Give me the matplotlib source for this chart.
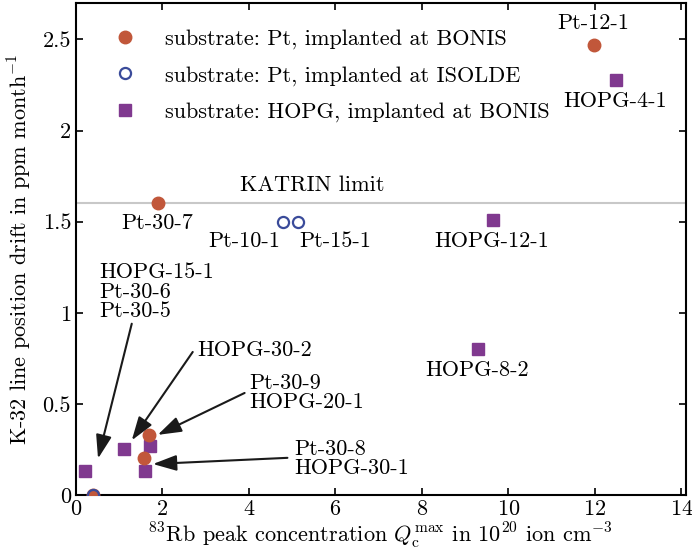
import matplotlib
matplotlib.use("Agg")
import matplotlib.pyplot as plt
from matplotlib.ticker import FuncFormatter

plt.rcParams["font.family"] = "serif"
plt.rcParams["font.serif"] = ["cmr10", "DejaVu Serif"]
plt.rcParams["mathtext.fontset"] = "cm"
plt.rcParams["axes.formatter.use_mathtext"] = True
plt.rcParams["font.size"] = 16

# data
pt_bonis_x = [11.97, 1.89, 1.68, 1.57, 0.39]
pt_bonis_y = [2.47, 1.60, 0.33, 0.203, 0.0]
pt_isolde_x = [4.78, 5.14, 0.39]
pt_isolde_y = [1.50, 1.50, 0.0]
hopg_x = [12.48, 9.64, 9.30, 1.11, 1.71, 1.59, 0.21]
hopg_y = [2.28, 1.51, 0.80, 0.253, 0.27, 0.132, 0.132]
katrin_limit = 1.6

col_pt = "#c1573a"
col_iso = "#3a4b9a"
col_hopg = "#80398f"

fig = plt.figure(figsize=(6.92, 5.56), dpi=100)
ax = fig.add_axes([0.1098, 0.1097, 0.881, 0.8849])

ax.axhline(katrin_limit, color="#c8c8c8", lw=1.5, zorder=1)
ax.text(5.47, 1.70, "KATRIN limit", ha="center", va="center")

ax.plot(pt_bonis_x, pt_bonis_y, "o", color=col_pt, ms=9, mec=col_pt,
        label="substrate: Pt, implanted at BONIS", zorder=3)
ax.plot(pt_isolde_x, pt_isolde_y, "o", mfc="none", mec=col_iso, mew=1.6, ms=8,
        label="substrate: Pt, implanted at ISOLDE", zorder=4)
ax.plot(hopg_x, hopg_y, "s", color=col_hopg, ms=9,
        label="substrate: HOPG, implanted at BONIS", zorder=2)

# point labels
ax.text(11.97, 2.59, "Pt-12-1", ha="center", va="center")
ax.text(12.48, 2.16, "HOPG-4-1", ha="center", va="center")
ax.text(1.89, 1.49, "Pt-30-7", ha="center", va="center")
ax.text(3.90, 1.39, "Pt-10-1", ha="center", va="center")
ax.text(6.00, 1.39, "Pt-15-1", ha="center", va="center")
ax.text(9.62, 1.39, "HOPG-12-1", ha="center", va="center")
ax.text(9.27, 0.685, "HOPG-8-2", ha="center", va="center")

arrow = dict(arrowstyle="-|>,head_length=0.9,head_width=0.3", color="#1a1a1a",
             lw=1.5, shrinkA=0, shrinkB=0)
ax.annotate("", xy=(0.51, 0.20), xytext=(1.29, 0.94), arrowprops=arrow)
ax.text(0.55, 1.115, "HOPG-15-1\nPt-30-6\nPt-30-5", ha="left", va="center",
        linespacing=1.0)
ax.annotate("", xy=(1.29, 0.30), xytext=(2.70, 0.785), arrowprops=arrow)
ax.text(2.81, 0.795, "HOPG-30-2", ha="left", va="center")
ax.annotate("", xy=(1.89, 0.33), xytext=(3.90, 0.56), arrowprops=arrow)
ax.text(4.01, 0.56, "Pt-30-9\nHOPG-20-1", ha="left", va="center", linespacing=1.0)
ax.annotate("", xy=(1.78, 0.17), xytext=(4.89, 0.204), arrowprops=arrow)
ax.text(5.05, 0.20, "Pt-30-8\nHOPG-30-1", ha="left", va="center", linespacing=1.0)

ax.set_xlim(0, 14.1)
ax.set_ylim(0, 2.70)
ax.set_xticks(range(0, 15, 2))
ax.set_yticks([0, 0.5, 1, 1.5, 2, 2.5])
ax.yaxis.set_major_formatter(FuncFormatter(lambda v, p: "%g" % v))
ax.tick_params(direction="in", top=True, right=True, length=5, width=1.2)
for s in ax.spines.values():
    s.set_linewidth(1.5)

ax.set_xlabel(r"$^{83}$Rb peak concentration $Q_\mathrm{c}^\mathrm{max}$ in $10^{20}$ ion cm$^{-3}$",
              labelpad=1)
ax.set_ylabel(r"K-32 line position drift in ppm month$^{-1}$", labelpad=6)

ax.legend(loc="upper left", frameon=False, handletextpad=0.8, borderaxespad=0.0,
          labelspacing=0.75, bbox_to_anchor=(0.03, 0.965))

fig.savefig("out.png", dpi=100)
